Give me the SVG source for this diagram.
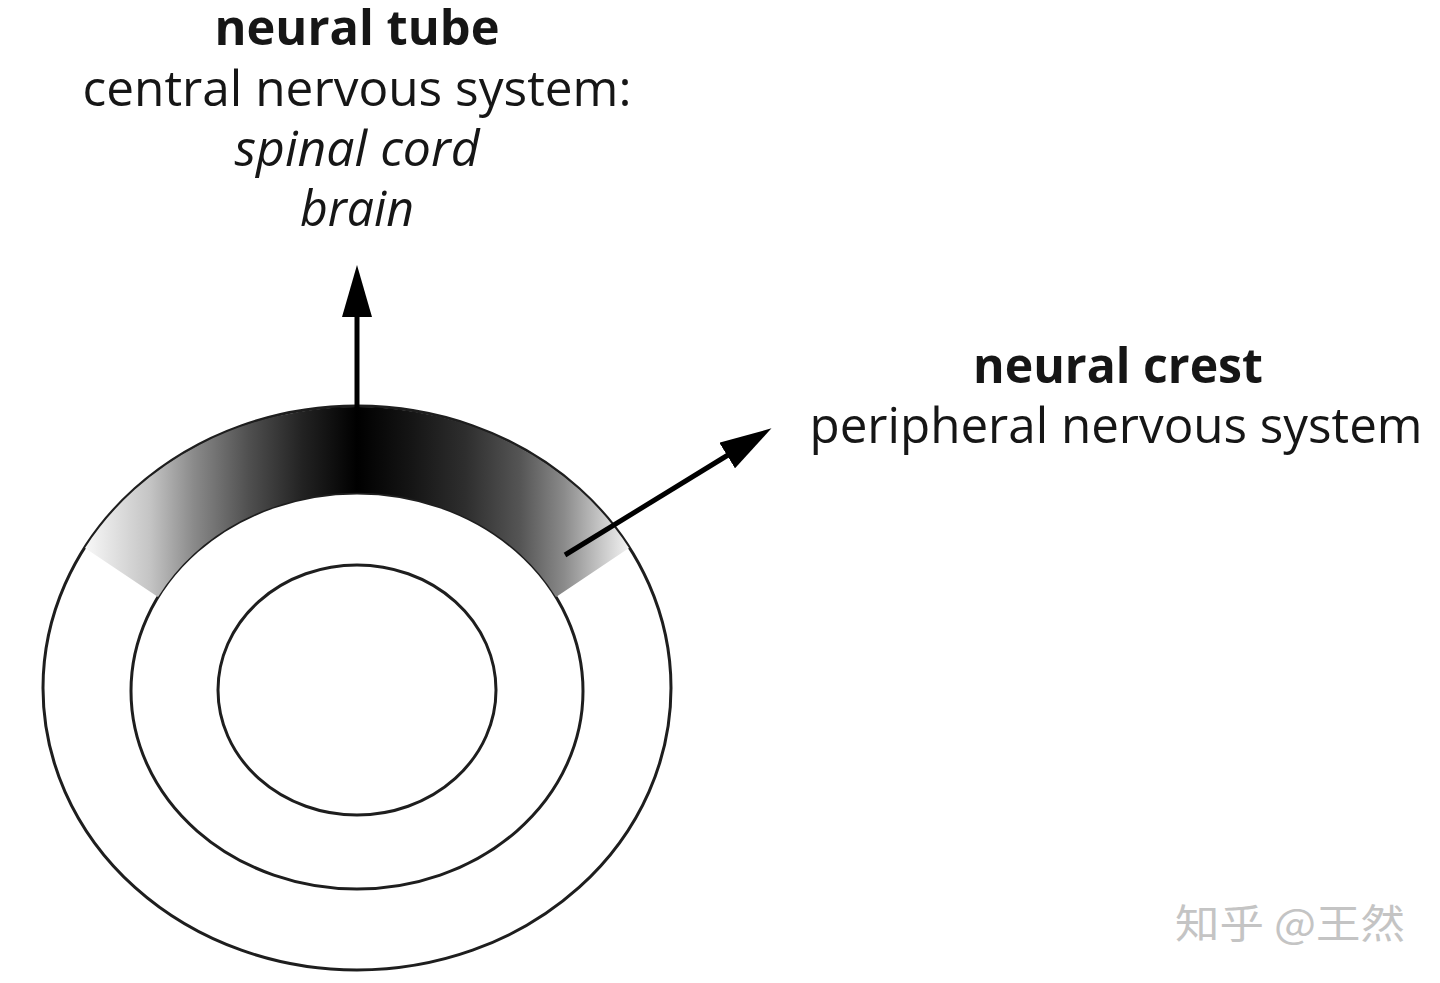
<svg xmlns="http://www.w3.org/2000/svg" width="1440" height="983" viewBox="0 0 1440 983">
<style>
.ring{fill:none;stroke:#1e1e1e;stroke-width:3}
.lbl{font-family:"Open Sans","Liberation Sans",sans-serif;font-size:49px;fill:#161616;text-anchor:middle}
.b{font-weight:bold}
.i{font-style:italic}
.conn{stroke:#000;stroke-width:5;fill:none;marker-end:url(#ah)}
.wm{font-family:"Noto Sans CJK SC","Noto Sans",sans-serif;font-size:40px;fill:#c4c4c4}
</style>
<defs>
<marker id="ah" markerUnits="userSpaceOnUse" viewBox="0 0 52 30" refX="1" refY="15" markerWidth="52" markerHeight="30" orient="auto">
<path d="M0,0 L52,15 L0,30 Z" fill="#000"/>
</marker>
<linearGradient id="bandGrad" gradientUnits="userSpaceOnUse" x1="85" y1="0" x2="629" y2="0">
<stop offset="0" stop-color="#f8f8f8"/>
<stop offset="0.12" stop-color="#c4c4c4"/>
<stop offset="0.2" stop-color="#8a8a8a"/>
<stop offset="0.3" stop-color="#505050"/>
<stop offset="0.4" stop-color="#222"/>
<stop offset="0.5" stop-color="#000"/>
<stop offset="0.6" stop-color="#151515"/>
<stop offset="0.7" stop-color="#2e2e2e"/>
<stop offset="0.8" stop-color="#555"/>
<stop offset="0.88" stop-color="#8a8a8a"/>
<stop offset="0.95" stop-color="#c8c8c8"/>
<stop offset="1" stop-color="#f2f2f2"/>
</linearGradient>
</defs>
<rect width="1440" height="983" fill="#fff"/>
<g id="embryo">
<ellipse class="ring" cx="357" cy="688" rx="314" ry="282"/>
<ellipse class="ring" cx="357" cy="691" rx="226" ry="198"/>
<ellipse class="ring" cx="357" cy="690" rx="139" ry="125"/>
<path id="band" d="M85,548 A314,282 0 0,1 629,548 L556,597 A226,198 0 0,0 158,597 Z" fill="url(#bandGrad)"/>
</g>
<g id="connectors">
<line class="conn" x1="357" y1="408" x2="357" y2="316"/>
<line class="conn" x1="565" y1="555" x2="728" y2="455"/>
</g>
<g id="neural-tube">
<text class="lbl b" x="357" y="45" textLength="285" lengthAdjust="spacingAndGlyphs">neural tube</text>
<text class="lbl" x="357" y="106" textLength="549" lengthAdjust="spacingAndGlyphs">central nervous system:</text>
<text class="lbl i" x="357" y="166" textLength="245" lengthAdjust="spacingAndGlyphs">spinal cord</text>
<text class="lbl i" x="357" y="226" textLength="114" lengthAdjust="spacingAndGlyphs">brain</text>
</g>
<g id="neural-crest">
<text class="lbl b" x="1118" y="383" textLength="290" lengthAdjust="spacingAndGlyphs">neural crest</text>
<text class="lbl" x="1116" y="443" textLength="613" lengthAdjust="spacingAndGlyphs">peripheral nervous system</text>
</g>
<text class="wm" x="1175" y="938" textLength="230" lengthAdjust="spacingAndGlyphs">知乎 @王然</text>
</svg>
